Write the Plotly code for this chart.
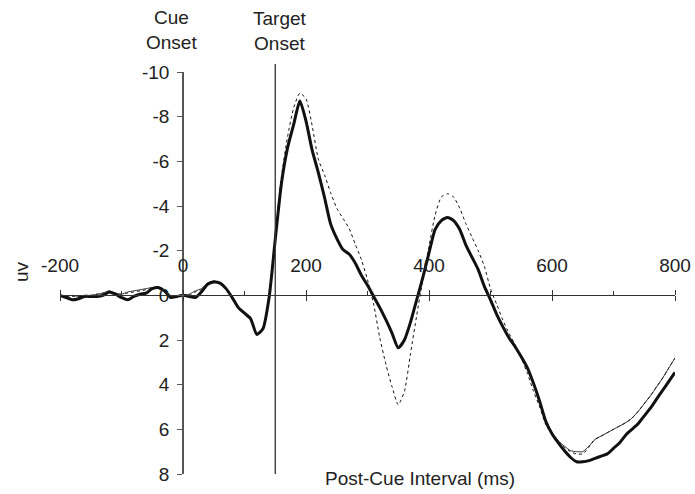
import plotly.graph_objects as go

# Time (ms, post-cue), 10 ms steps
time_ms = list(range(-200, 801, 10))

# Amplitudes (uV; negative plotted upward)
thick = [0.0, 0.1, 0.2, 0.15, 0.05, 0.05, 0.05, 0.0, -0.15, -0.05,
         0.1, 0.2, 0.05, -0.05, -0.1, -0.3, -0.35, -0.2, 0.1, 0.05,
         0.0, 0.05, 0.1, -0.15, -0.5, -0.6, -0.55, -0.3, 0.1, 0.55,
         0.8, 1.05, 1.75, 1.5, 0.1, -2.5, -5.0, -6.6, -7.65, -8.7,
         -7.8, -6.5, -5.5, -4.4, -3.2, -2.55, -2.05, -1.85, -1.45, -0.9,
         -0.45, 0.05, 0.55, 1.1, 1.7, 2.35, 2.0, 1.2, 0.2, -0.8,
         -1.9, -2.95, -3.35, -3.48, -3.35, -2.95, -2.25, -1.7, -1.15, -0.4,
         0.2, 0.85, 1.4, 1.9, 2.3, 2.75, 3.25, 3.95, 4.75, 5.65,
         6.2, 6.6, 6.95, 7.25, 7.45, 7.45, 7.4, 7.3, 7.2, 7.1,
         6.85, 6.6, 6.25, 6.0, 5.75, 5.4, 5.05, 4.65, 4.25, 3.85,
         3.45]

thin = [0.0, 0.05, 0.0, 0.05, 0.05, 0.0, -0.05, -0.1, -0.2, -0.1,
        -0.05, -0.15, -0.2, -0.25, -0.3, -0.35, -0.3, -0.15, 0.0, 0.05,
        0.0, -0.05, -0.2, -0.3, -0.55, -0.65, -0.55, -0.3, 0.1, 0.5,
        0.75, 1.0, 1.7, 1.45, 0.0, -2.6, -5.1, -6.7, -7.75, -8.75,
        -7.9, -6.6, -5.55, -4.45, -3.25, -2.55, -2.05, -1.85, -1.45, -0.9,
        -0.45, 0.05, 0.55, 1.1, 1.7, 2.35, 2.0, 1.2, 0.2, -0.8,
        -1.9, -2.95, -3.35, -3.48, -3.35, -2.95, -2.25, -1.7, -1.15, -0.4,
        0.2, 0.85, 1.4, 1.9, 2.3, 2.75, 3.25, 3.95, 4.75, 5.6,
        6.15, 6.5, 6.75, 6.95, 7.0, 7.0, 6.75, 6.45, 6.3, 6.15,
        6.0, 5.85, 5.7, 5.5, 5.2, 4.85, 4.5, 4.1, 3.7, 3.25,
        2.8]

dotted = [0.0, 0.05, 0.05, 0.05, 0.0, 0.0, -0.05, -0.1, -0.15, -0.1,
          -0.05, -0.1, -0.15, -0.2, -0.25, -0.3, -0.3, -0.2, 0.0, 0.05,
          0.0, 0.0, -0.15, -0.25, -0.5, -0.6, -0.55, -0.3, 0.1, 0.5,
          0.75, 1.0, 1.7, 1.45, 0.0, -2.7, -5.3, -7.1, -8.4, -9.05,
          -8.8, -7.6, -6.1, -5.4, -4.6, -3.9, -3.45, -3.0, -2.3, -1.6,
          -0.7, 0.4, 1.9, 3.1, 4.1, 4.9, 4.3, 2.6, 0.9, -0.7,
          -2.2, -3.6, -4.4, -4.55, -4.4, -3.9, -3.2, -2.6, -2.0, -1.3,
          -0.3, 0.4, 1.1, 1.7, 2.2, 2.8, 3.5, 4.3, 5.0, 5.8,
          6.2, 6.55, 6.8, 7.0, 7.1, 7.1, 6.8, 6.45, 6.3, 6.15,
          6.0, 5.85, 5.7, 5.5, 5.2, 4.85, 4.5, 4.1, 3.7, 3.25,
          2.8]

x_major = [-200, 0, 200, 400, 600, 800]
x_minor = [-100, 100, 300, 500, 700]
y_ticks = [-10, -8, -6, -4, -2, 0, 2, 4, 6, 8]
TARGET_ONSET = 150
X_RANGE = [-200, 800]
Y_RANGE = [8, -10]

FONT = "Liberation Sans, Arial, sans-serif"
FS = 19
TXT = "#222222"
AX = "#333333"

fig = go.Figure()
fig.add_trace(go.Scatter(x=time_ms, y=dotted, mode="lines", xaxis="x2",
                         line=dict(color="#111111", width=1, dash="dot", shape="spline", smoothing=0.6),
                         showlegend=False))
fig.add_trace(go.Scatter(x=time_ms, y=thin, mode="lines",
                         line=dict(color="#333333", width=1, shape="spline", smoothing=0.6),
                         showlegend=False))
fig.add_trace(go.Scatter(x=time_ms, y=thick, mode="lines",
                         line=dict(color="#111111", width=3, shape="spline", smoothing=0.6),
                         showlegend=False))

fig.add_shape(type="line", xref="x", yref="paper", x0=TARGET_ONSET, x1=TARGET_ONSET,
              y0=0, y1=1.02, line=dict(color=AX, width=1.3))

y0_frac = (Y_RANGE[0] - 0) / (Y_RANGE[0] - Y_RANGE[1])
x0_frac = (0 - X_RANGE[0]) / (X_RANGE[1] - X_RANGE[0])

fig.update_layout(
    width=695, height=494,
    margin=dict(l=60, r=20, t=72, b=20),
    paper_bgcolor="white", plot_bgcolor="white",
    font=dict(family=FONT, size=FS, color=TXT),
    xaxis=dict(range=X_RANGE, anchor="free", position=y0_frac, side="top", automargin=False,
               showgrid=False, zeroline=False, showline=True, linecolor=AX, linewidth=1.3,
               tickmode="array", tickvals=x_major, ticktext=[str(v) for v in x_major],
               ticks="outside", ticklen=5, tickwidth=1.3, tickcolor=AX,
               ticklabelstandoff=11,
               minor=dict(tickvals=x_minor, ticks="outside", ticklen=4, tickwidth=1, tickcolor=AX)),
    xaxis2=dict(range=X_RANGE, matches="x", overlaying="x", anchor="free", position=y0_frac,
                side="bottom", showgrid=False, zeroline=False, showline=False, automargin=False,
                tickmode="array", tickvals=x_major, ticks="outside", ticklen=5,
                tickwidth=1.3, tickcolor=AX, showticklabels=False),
    yaxis=dict(range=Y_RANGE, anchor="free", position=x0_frac, side="left", automargin=False,
               showgrid=False, zeroline=False, showline=True, linecolor="#555555", linewidth=1.5,
               tickmode="array", tickvals=y_ticks, ticktext=[str(v) for v in y_ticks],
               ticks="outside", ticklen=5, tickwidth=1.3, tickcolor="#555555",
               ticklabelstandoff=4),
)

ann = dict(xref="paper", yref="paper", showarrow=False, xanchor="center", yanchor="middle",
           font=dict(family=FONT, size=FS, color=TXT))
fig.add_annotation(text="Cue<br>Onset", x=(171 - 60) / 615, y=(474 - 30) / 402, **ann)
fig.add_annotation(text="Target<br>Onset", x=(280 - 60) / 615, y=(474 - 31) / 402, **ann)
fig.add_annotation(text="uv", x=(21 - 60) / 615, y=(474 - 272) / 402, textangle=-90, **ann)
fig.add_annotation(text="Post-Cue Interval (ms)", x=(420 - 60) / 615, y=(474 - 478) / 402, **ann)

# remove the browser's default 8px page margin so the 695x494 figure fills the window
fig.write_html("out.html", config={"displayModeBar": False},
               post_script="document.body.style.margin='0px'; document.body.style.overflow='hidden';")
